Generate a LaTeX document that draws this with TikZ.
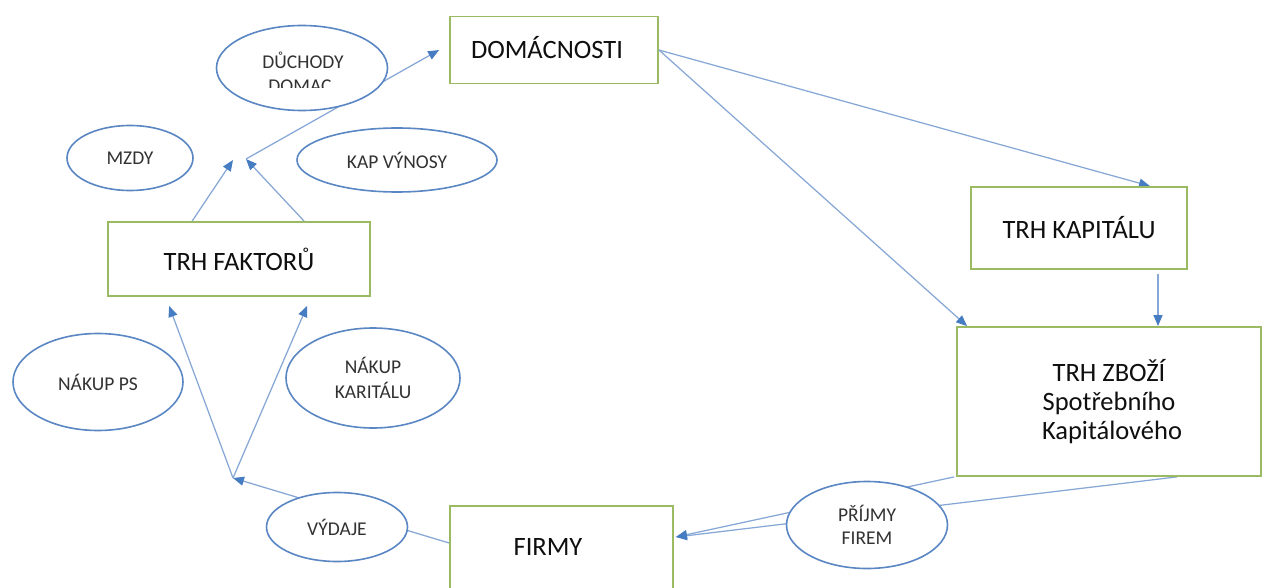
\documentclass[tikz,border=0pt]{standalone}
\usepackage{fontspec}
\setmainfont{Carlito}
\usetikzlibrary{shapes.geometric,arrows.meta}
\definecolor{boxgreen}{RGB}{155,186,100}
\definecolor{ellblue}{RGB}{90,135,195}
\definecolor{linkblue}{RGB}{135,168,214}
\definecolor{tipblue}{RGB}{70,124,194}
\definecolor{boxink}{RGB}{15,15,15}
\definecolor{ellink}{RGB}{50,50,50}
\pgfdeclarelayer{bg}
\pgfsetlayers{bg,main}
\tikzset{
  box/.style={draw=boxgreen, line width=1.8pt, fill=white, inner sep=0pt,
    font=\fontsize{26.5}{29}\selectfont, text=boxink, align=center},
  boxtext/.style={inner sep=0pt, font=\fontsize{26.5}{29}\selectfont, text=boxink},
  oval/.style={ellipse, draw=ellblue, line width=1.6pt, fill=white, inner sep=0pt,
    font=\fontsize{19.5}{25}\selectfont, text=ellink, align=center},
  ovaltext/.style={inner sep=0pt, font=\fontsize{19.5}{25}\selectfont, text=ellink},
  link/.style={draw=linkblue, line width=1.25pt},
  flow/.style={link, -{Triangle[length=11pt,width=9pt,color=tipblue]}},
}
\begin{document}
\begin{tikzpicture}[x=1pt,y=-1pt]
\useasboundingbox (0,0) rectangle (1263,588);

% market and sector boxes
\node[box, minimum width=208pt, minimum height=67pt] (dom) at (554,50) {};
\node[boxtext] (domt) at (547,48) {DOMÁCNOSTI};
\node[box, minimum width=262pt, minimum height=74pt] (tf) at (239,259) {TRH FAKTORŮ};
\node[box, minimum width=216pt, minimum height=82pt] (tk) at (1079,228) {TRH KAPITÁLU};
\node[box, minimum width=304pt, minimum height=149pt] (tz) at (1109,401.5)
  {TRH ZBOŽÍ\\Spotřebního\\\ Kapitálového};
\node[box, minimum width=223pt, minimum height=94pt] (firmy) at (561.5,553) {};
\node[boxtext] (firmyt) at (548,547) {FIRMY};

% flow labels
\node[oval, minimum width=171pt, minimum height=85pt] (duch) at (302,68) {};
\node[ovaltext] (ducht) at (303,60) {DŮCHODY};
\begin{scope}
  \clip (200,20) rectangle (400,88);
  \node[ovaltext] (duchb) at (300,86) {DOMAC};
\end{scope}
\node[oval, minimum width=126pt, minimum height=65pt] (mzdy) at (130,158) {MZDY};
\node[oval, minimum width=200pt, minimum height=64pt] (kap) at (397,160) {KAP VÝNOSY};
\node[oval, minimum width=170pt, minimum height=97pt] (nps) at (98,382) {NÁKUP PS};
\node[oval, minimum width=174pt, minimum height=100pt] (nkap) at (373,378) {NÁKUP\\KARITÁLU};
\node[oval, minimum width=141pt, minimum height=69pt] (vyd) at (337,527) {VÝDAJE};
\node[oval, minimum width=161pt, minimum height=87pt, font=\fontsize{19.5}{22.5}\selectfont]
  (prij) at (867,525) {PŘÍJMY\\FIREM};

% junction points of the circular flow
\coordinate (jtl) at (233,160);
\coordinate (jtr) at (246,159);
\coordinate (jbot) at (233,478);

\begin{pgfonlayer}{bg}
  \fill[white] (0,0) rectangle (1263,588);
  % households to the markets
  \draw[flow] (dom.east) -- ([xshift=71pt]tk.north);
  \draw[flow] (dom.east) -- ([xshift=11pt]tz.north west);
  \draw[flow] ([xshift=79pt,yshift=-4pt]tk.south) -- ([xshift=49pt]tz.north);
  % goods market revenues to firms
  \draw[flow] ([xshift=-2pt]tz.south west) -- ([xshift=2pt,yshift=16pt]firmy.east);
  \draw[flow] ([xshift=68pt]tz.south) -- ([xshift=2pt,yshift=16pt]firmy.east);
  % firms' expenditures to the factor market
  \draw[flow] ([yshift=10pt]firmy.west) -- (jbot);
  \draw[flow] (jbot) -- ([xshift=62pt,yshift=-9pt]tf.south west);
  \draw[flow] (jbot) -- ([xshift=200pt,yshift=-9pt]tf.south west);
  % factor incomes to households
  \draw[flow] ([xshift=85pt]tf.north west) -- (jtl);
  \draw[flow] ([xshift=197pt]tf.north west) -- (jtr);
  \draw[flow] (jtr) -- ([xshift=-10pt]dom.west);
\end{pgfonlayer}
\end{tikzpicture}
\end{document}
